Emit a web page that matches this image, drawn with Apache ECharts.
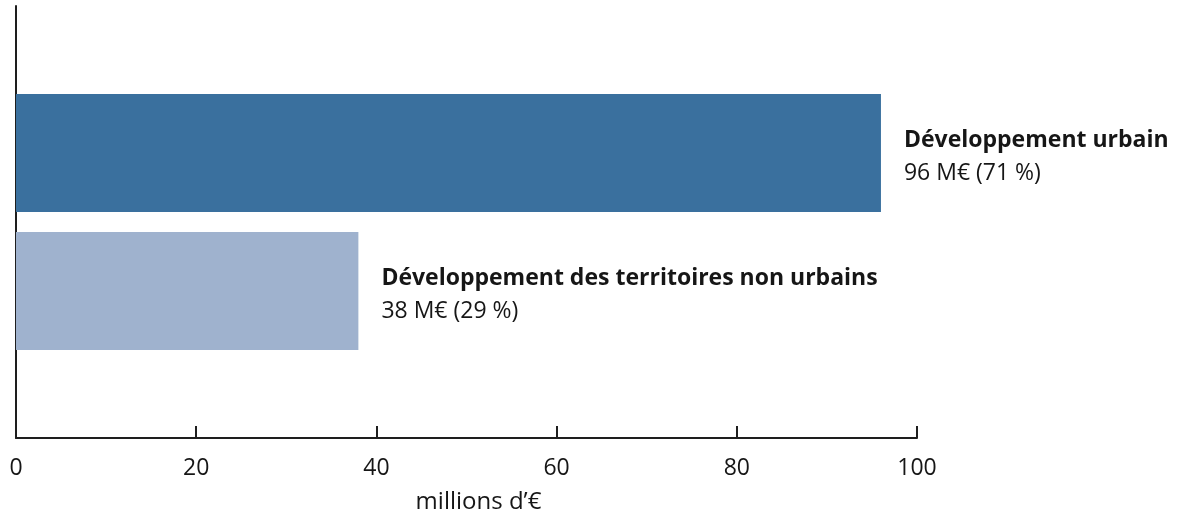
<!DOCTYPE html>
<html>
<head>
<meta charset="utf-8">
<script src="https://cdn.jsdelivr.net/npm/echarts@6/dist/echarts.min.js"></script>
<style>
  html, body { margin: 0; padding: 0; background: #fff; }
  #main { width: 1180px; height: 515px; }
</style>
</head>
<body>
<div id="main"></div>
<script>
var categories = ['Développement urbain', 'Développement des territoires non urbains'];
var values = [96, 38];
var shares = ['71 %', '29 %'];
var colors = ['#3a709e', '#9fb2ce'];
var xTicks = [0, 20, 40, 60, 80, 100];

var myChart = echarts.init(document.getElementById('main'));

var series = categories.map(function (name, i) {
    return {
        name: name,
        type: 'bar',
        data: [values[i]],
        barWidth: 118,
        barGap: '17%',
        itemStyle: { color: colors[i] },
        label: {
            show: true,
            position: 'right',
            distance: 23,
            offset: [0, 4],
            formatter: function () {
                return '{b|' + name + '}\n{v|' + values[i] + ' M€ (' + shares[i] + ')}';
            },
            rich: {
                b: { fontFamily: 'Open Sans', fontWeight: 'bold', fontSize: 23, color: '#161616', lineHeight: 33 },
                v: { fontFamily: 'Open Sans', fontSize: 23, color: '#161616', lineHeight: 33 }
            }
        }
    };
});

var option = {
    animation: false,
    grid: { left: 16, right: 263, top: 6, bottom: 77, containLabel: false, outerBoundsMode: 'none' },
    xAxis: {
        type: 'value',
        min: xTicks[0],
        max: xTicks[xTicks.length - 1],
        interval: 20,
        splitLine: { show: false },
        axisLine: { show: true, lineStyle: { color: '#1e1e1e', width: 2 } },
        axisTick: { show: true, inside: true, length: 12, lineStyle: { color: '#1e1e1e', width: 2 } },
        axisLabel: { fontFamily: 'Open Sans', fontSize: 23, color: '#161616', margin: 19 },
        name: 'millions d’€',
        nameLocation: 'middle',
        nameGap: 52,
        nameTextStyle: { fontFamily: 'Open Sans', fontSize: 24, color: '#161616', padding: [0, 0, 0, 24] }
    },
    yAxis: {
        type: 'category',
        inverse: true,
        data: [''],
        axisLine: { show: true, lineStyle: { color: '#1e1e1e', width: 2 } },
        axisTick: { show: false },
        axisLabel: { show: false }
    },
    series: series
};

myChart.setOption(option);
</script>
</body>
</html>
